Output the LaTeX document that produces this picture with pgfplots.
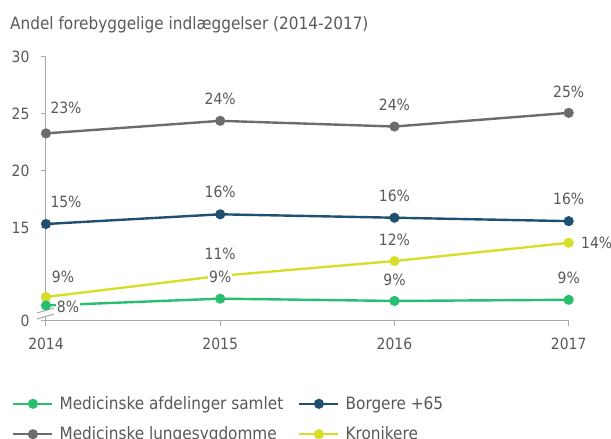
\documentclass[border=0pt]{standalone}
\usepackage{pgfplots}
\pgfplotsset{compat=1.18}
\usepackage{pgfplotstable}
\usepackage{fontspec}
\setmainfont{DejaVu Sans Condensed}

\definecolor{cgreen}{RGB}{40,190,112}
\definecolor{cblue}{RGB}{31,80,112}
\definecolor{cgray}{RGB}{108,108,110}
\definecolor{cyellow}{RGB}{214,222,42}
\definecolor{ctext}{RGB}{89,89,89}
\definecolor{caxis}{RGB}{170,170,170}

% x y label dx dy (label offset from point, pt)
\pgfplotstableread{
x    y    lab dx dy
2014 8.2  8   22 -1
2015 8.8  9   0  22
2016 8.6  9   0  21
2017 8.7  9   0  22
}\tgreen
\pgfplotstableread{
x    y     lab dx dy
2014 15.35 15  20 22
2015 16.2  16  0  22
2016 15.9  16  0  22
2017 15.6  16  0  22
}\tblue
\pgfplotstableread{
x    y    lab dx dy
2014 23.3 23  20 26
2015 24.4 24  0  22
2016 23.9 24  0  22
2017 25.1 25  0  21
}\tgray
\pgfplotstableread{
x    y    lab dx dy
2014 8.95 9   17 20
2015 10.8 11  0  22
2016 12.1 12  0  21
2017 13.7 14  28 0
}\tyellow

\begin{document}
\begin{tikzpicture}
\useasboundingbox (0,0) rectangle (611pt,439pt);
\node[anchor=west, text=ctext, font=\fontsize{17}{20}\selectfont, inner sep=0pt] at (10pt,414pt)
  {Andel forebyggelige indlæggelser (2014-2017)};
\begin{axis}[
  at={(46pt,118pt)}, anchor=south west,
  scale only axis, width=522.7pt, height=264pt,
  xmin=2014, xmax=2017, ymin=6.84, ymax=30,
  axis x line*=bottom, axis y line*=left,
  axis line style={caxis, line width=1pt, -},
  xtick={2014,2015,2016,2017},
  ytick={6.84,15,20,25,30}, yticklabels={0,15,20,25,30},
  tick style={caxis, line width=1pt},
  tick align=outside, major tick length=5pt,
  x tick label style={/pgf/number format/1000 sep=, yshift=-8pt},
  y tick label style={xshift=-8pt},
  /pgf/number format/assume math mode=true,
  tick label style={text=ctext, font=\fontsize{15.5}{18}\selectfont},
  every axis plot/.append style={line width=2.4pt, mark=*, mark size=3.8pt},
  point meta=explicit symbolic,
  visualization depends on={\thisrow{dx}\as\dx},
  visualization depends on={\thisrow{dy}\as\dy},
  nodes near coords={\pgfplotspointmeta\%},
  nodes near coords style={anchor=center, xshift=\dx pt, yshift=\dy pt,
    fill=white, inner sep=1pt, text=ctext, font=\fontsize{15.5}{18}\selectfont},
  legend columns=2,
  legend cell align=left,
  legend style={at={(-0.065,-0.278)}, anchor=north west, draw=none,
    font=\fontsize{17}{20}\selectfont, text=ctext,
    row sep=12pt, inner sep=0pt,
    /tikz/every odd column/.append style={column sep=4pt},
    /tikz/every even column/.append style={column sep=13pt}},
  legend image code/.code={\draw[mark repeat=2, mark phase=2, #1]
    plot coordinates {(0pt,0pt) (19.5pt,0pt) (39pt,0pt)};},
  clip=false,
]
\addlegendimage{cgreen, line width=2.4pt, mark=*, mark size=3.8pt}
\addlegendentry{Medicinske afdelinger samlet}
\addlegendimage{cblue, line width=2.4pt, mark=*, mark size=3.8pt}
\addlegendentry{Borgere +65}
\addlegendimage{cgray, line width=2.4pt, mark=*, mark size=3.8pt}
\addlegendentry{Medicinske lungesygdomme}
\addlegendimage{cyellow, line width=2.4pt, mark=*, mark size=3.8pt}
\addlegendentry{Kronikere}

\addplot[cgray, forget plot] table[x=x, y=y, meta=lab] {\tgray};
\addplot[cblue, forget plot] table[x=x, y=y, meta=lab] {\tblue};
\addplot[cyellow, forget plot] table[x=x, y=y, meta=lab] {\tyellow};
\addplot[cgreen, forget plot] table[x=x, y=y, meta=lab] {\tgreen};

% axis break marks
\fill[white] ([shift={(-2pt,5pt)}]rel axis cs:0,0) rectangle ([shift={(2pt,11pt)}]rel axis cs:0,0);
\draw[caxis, line width=1pt] ([shift={(-9pt,2pt)}]rel axis cs:0,0) -- ++(17pt,5pt);
\draw[caxis, line width=1pt] ([shift={(-9pt,8pt)}]rel axis cs:0,0) -- ++(17pt,5pt);
\end{axis}
\end{tikzpicture}
\end{document}
